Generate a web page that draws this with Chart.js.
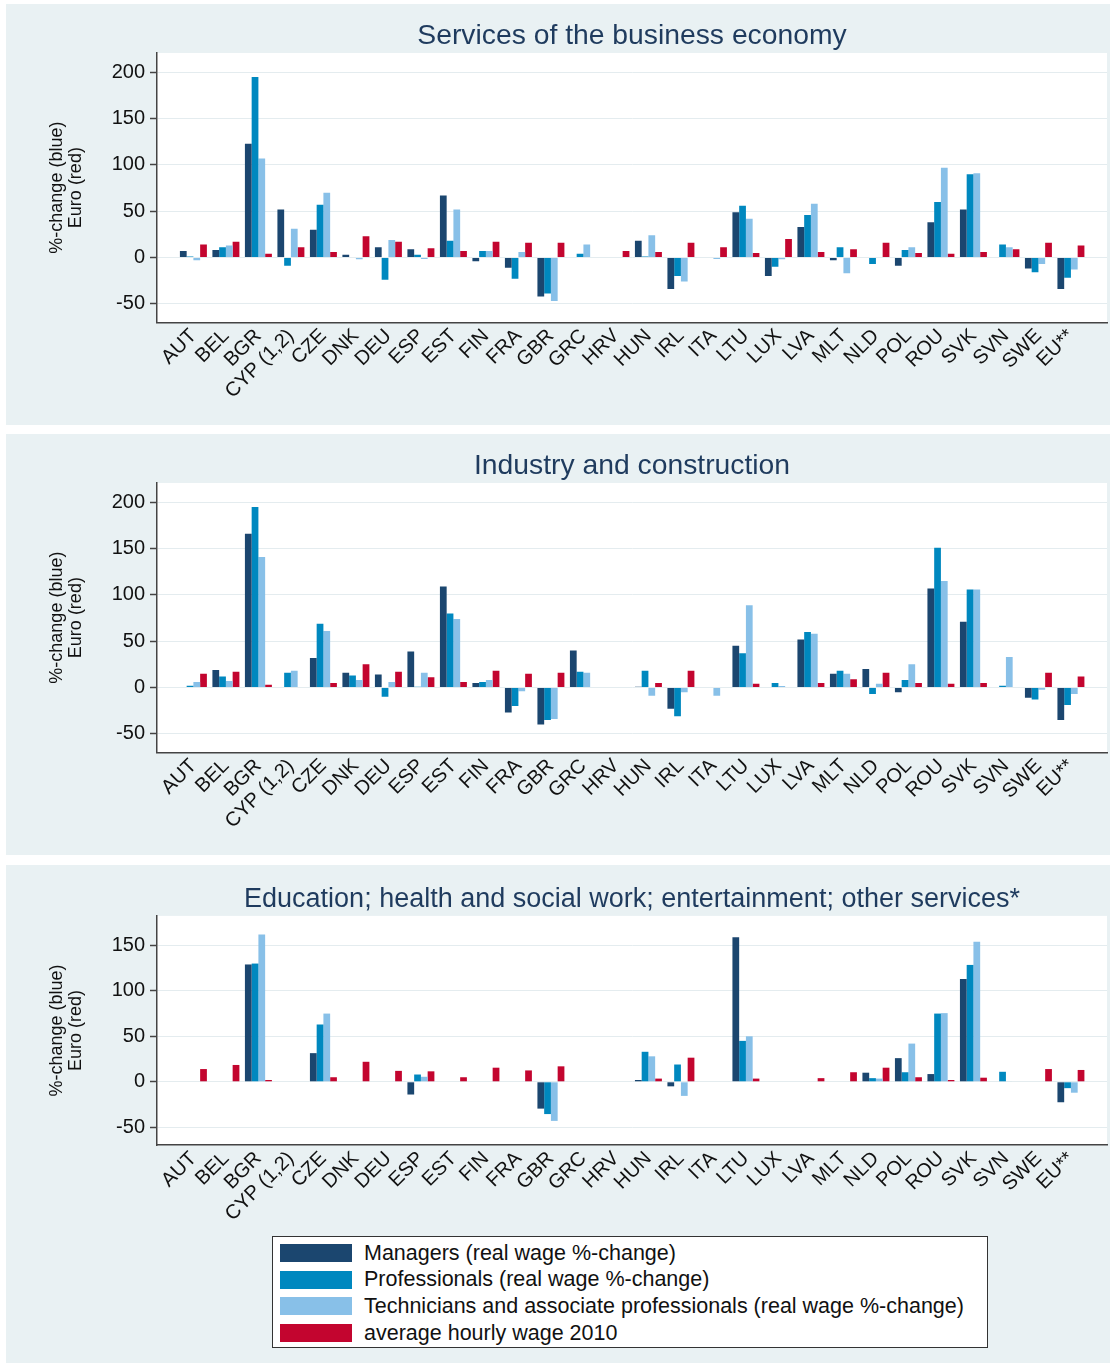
<!DOCTYPE html>
<html>
<head>
<meta charset="utf-8">
<script src="https://cdn.jsdelivr.net/npm/chart.js@4.4.0/dist/chart.umd.min.js"></script>
<style>
  body { margin: 0; background: #ffffff; font-family: "Liberation Sans", Arial, sans-serif; }
  .panel { position: absolute; left: 6px; width: 1104px; background: #e9f1f3; }
  .panel canvas { position: absolute; left: 0; top: 0; }
  #legend {
    position: absolute; left: 266px; top: 371px; width: 716px; height: 112px;
    box-sizing: border-box; border: 1px solid #333; background: #fff; padding-top: 3px;
  }
  .item { height: 26.6px; display: flex; align-items: center; font-size: 21.5px; color: #111; }
  .swatch { width: 72px; height: 18px; margin-left: 7px; margin-right: 12px; }
</style>
</head>
<body>
<div class="panel" style="top:4px;height:421px"><canvas id="services" width="1104" height="421"></canvas></div>
<div class="panel" style="top:434px;height:421px"><canvas id="industry" width="1104" height="421"></canvas></div>
<div class="panel" style="top:865px;height:498px">
  <canvas id="education" width="1104" height="370"></canvas>
  <div id="legend"></div>
</div>
<script>
const categories = ['AUT', 'BEL', 'BGR', 'CYP (1,2)', 'CZE', 'DNK', 'DEU', 'ESP', 'EST', 'FIN',
  'FRA', 'GBR', 'GRC', 'HRV', 'HUN', 'IRL', 'ITA', 'LTU', 'LUX', 'LVA',
  'MLT', 'NLD', 'POL', 'ROU', 'SVK', 'SVN', 'SWE', 'EU**'];

const seriesNames = [
  'Managers (real wage %-change)',
  'Professionals (real wage %-change)',
  'Technicians and associate professionals (real wage %-change)',
  'average hourly wage 2010'
];
const seriesColors = ['#1b466f', '#0088bf', '#88c0e8', '#c3052f'];

// Services of the business economy
const svcManagers = [7, 8, 123, 52, 30, 3, 11, 9, 67, -4, -11, -42, null, null, 18, -34, null, 49, -20, 33, -3, 0.5, -9, 38, 52, null, -12, -34];
const svcProfessionals = [1, 11, 195, -9, 57, null, -24, 3, 18, 7, -23, -39, 4, null, 1, -20, null, 56, -10, 46, 11, -7, 8, 60, 90, 14, -16, -22];
const svcTechnicians = [-3, 13, 107, 31, 70, -2, 19, -1.5, 52, 7, 6, -47, 14, null, 24, -26, -1.5, 42, -2, 58, -17, null, 11, 97, 91, 11, -7, -13];
const svcHourlyWage = [14, 17, 4, 11, 6, 23, 17, 10, 7, 17, 16, 16, null, 7, 6, 16, 11, 5, 20, 6, 9, 16, 5, 4, 6, 9, 16, 13];

// Industry and construction
const indManagers = [0.5, 19, 166, null, 32, 16, 14, 39, 109, 5, -27, -40, 40, null, 0.7, -23, null, 45, null, 52, 15, 20, -5, 107, 71, null, -11, -35];
const indProfessionals = [2, 12, 195, 16, 69, 13, -10, 0.7, 80, 6, -20, -35, 17, null, 18, -31, null, 37, 5, 60, 18, -7, 8, 151, 106, 2, -13, -19];
const indTechnicians = [6, 7, 141, 18, 61, 8, 6, 16, 74, 8, -4, -34, 16, null, -9, -5, -9, 89, 1.5, 58, 15, 4, 25, 115, 106, 33, -2.5, -7];
const indHourlyWage = [15, 17, 3, null, 5, 25, 17, 11, 6, 18, 15, 16, null, null, 5, 18, null, 4, null, 5, 9, 16, 5, 4, 5, null, 16, 12];

// Education; health and social work; entertainment; other services
const eduManagers = [null, null, 129, null, 31.5, null, null, -14, null, null, null, -29.5, null, null, 2, -5, null, 159, null, null, null, 10, 26, 8.5, 113, null, null, -22.5];
const eduProfessionals = [null, null, 130, null, 63, null, null, 8, null, null, null, -35.5, null, null, 33, 19, null, 45, null, null, null, 4, 10.5, 75, 128.5, 11, null, -7];
const eduTechnicians = [null, null, 162, null, 75, null, null, 5.5, null, null, null, -43, null, null, 28, -15.5, null, 50, null, null, null, 3.5, 42, 75.5, 154, 0.5, null, -12];
const eduHourlyWage = [14, 18.5, 2, null, 5, 22, 12, 11.5, 5, 15.5, 12.5, 17, null, null, 3.5, 26.5, null, 3.5, null, 4, 10.5, 15.5, 5, 2, 4.5, null, 14, 13];

const ticksWide = [-50, 0, 50, 100, 150, 200];
const ticksNarrow = [-50, 0, 50, 100, 150];

const axisColor = '#444';
const gridColor = '#e4ecef';
const textColor = '#111';
const fontFamily = '"Liberation Sans", Arial, sans-serif';

// white plotting region inside the tinted panel
const plotBackground = {
  id: 'plotBackground',
  beforeDraw(chart) {
    const { ctx, chartArea: { left, top, width, height } } = chart;
    ctx.save();
    ctx.fillStyle = '#ffffff';
    ctx.fillRect(left, top, width, height);
    ctx.restore();
  }
};

function makePanel(id, title, series, yMin, yMax, yTicks, xAxisHeight, titleSize, titlePad) {
  const datasets = series.map((values, k) => ({
    label: seriesNames[k],
    data: values.map((v, i) => ({ x: i, y: v })),
    backgroundColor: seriesColors[k],
    borderWidth: 0,
    barPercentage: 1,
    categoryPercentage: 0.83
  }));

  new Chart(document.getElementById(id), {
    type: 'bar',
    data: { datasets },
    options: {
      responsive: false,
      animation: false,
      layout: { padding: { left: 0, right: 3, top: 0, bottom: 0 } },
      plugins: {
        legend: { display: false },
        tooltip: { enabled: false },
        title: {
          display: true,
          text: title,
          fullSize: false,
          color: '#1f3b5e',
          font: { family: fontFamily, size: titleSize, weight: 'normal', lineHeight: 1.2 },
          padding: titlePad
        }
      },
      scales: {
        x: {
          type: 'linear',
          offset: false,
          min: -1.12,
          max: 28.11,
          afterBuildTicks: s => { s.ticks = categories.map((c, i) => ({ value: i })); },
          afterFit: s => { s.height = xAxisHeight; },
          grid: { display: false },
          border: { display: true, color: axisColor, width: 1.5 },
          ticks: {
            autoSkip: false,
            minRotation: 45,
            maxRotation: 45,
            padding: -6,
            color: textColor,
            font: { family: fontFamily, size: 20 },
            callback: v => categories[v]
          }
        },
        y: {
          min: yMin,
          max: yMax,
          afterBuildTicks: s => { s.ticks = yTicks.map(v => ({ value: v })); },
          afterFit: s => { s.width = 151; },
          grid: { color: gridColor, lineWidth: 1, tickColor: axisColor, tickLength: 7, tickWidth: 1.5 },
          border: { display: true, color: axisColor, width: 1.5 },
          ticks: { padding: 5, color: textColor, font: { family: fontFamily, size: 20 } },
          title: {
            display: true,
            text: ['%-change (blue)', 'Euro (red)'],
            color: textColor,
            font: { family: fontFamily, size: 18, lineHeight: 1.05 },
            padding: { top: 42, bottom: 0 }
          }
        }
      }
    },
    plugins: [plotBackground]
  });
}

makePanel('services', 'Services of the business economy',
  [svcManagers, svcProfessionals, svcTechnicians, svcHourlyWage],
  -70, 221, ticksWide, 102.7, 28.3, { top: 15, bottom: 0 });

makePanel('industry', 'Industry and construction',
  [indManagers, indProfessionals, indTechnicians, indHourlyWage],
  -70, 221, ticksWide, 102.7, 28.3, { top: 15, bottom: 0 });

makePanel('education', 'Education; health and social work; entertainment; other services*',
  [eduManagers, eduProfessionals, eduTechnicians, eduHourlyWage],
  -69.5, 182.4, ticksNarrow, 90, 27, { top: 18.5, bottom: 0 });

// legend box shared by the three panels
const legend = document.getElementById('legend');
seriesNames.forEach((name, k) => {
  const row = document.createElement('div');
  row.className = 'item';
  const sw = document.createElement('span');
  sw.className = 'swatch';
  sw.style.background = seriesColors[k];
  const txt = document.createElement('span');
  txt.textContent = name;
  row.appendChild(sw);
  row.appendChild(txt);
  legend.appendChild(row);
});
</script>
</body>
</html>
